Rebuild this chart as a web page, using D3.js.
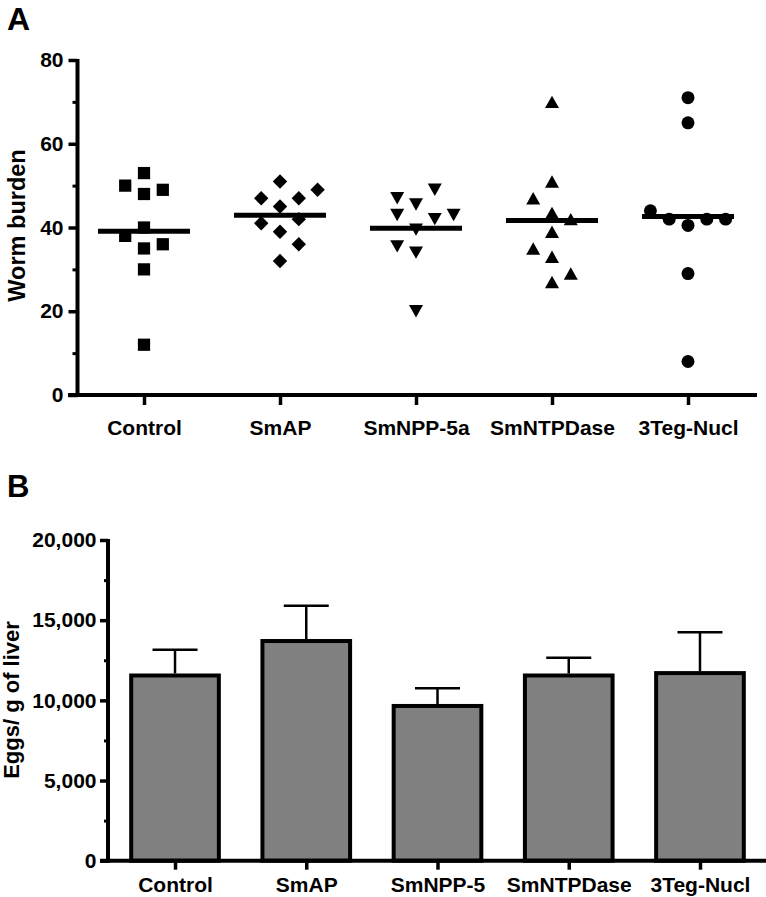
<!DOCTYPE html>
<html><head><meta charset="utf-8">
<script src="https://cdn.jsdelivr.net/npm/d3@7"></script>
<style>
body{margin:0;background:#fff}
svg text{font-family:"Liberation Sans",Arial,sans-serif;font-weight:bold;fill:#000}
</style>
</head><body>
<svg id="chart" width="766" height="897"></svg>
<script>
// ---------- Panel A data (worm burden per mouse) ----------
const groupsA = ["Control","SmAP","SmNPP-5a","SmNTPDase","3Teg-Nucl"];
const controlBurden   = [53,48,49,50,40,35,36,38,30,12];
const smapBurden      = [51,45,47,47,49,39,42,41,36,32];
const smnppBurden     = [45.5,39.5,34,20,49,47,42,35.5,43,43];
const smntpdaseBurden = [70,51,43.5,39,33,27,42,47,29,35];
const tegNuclBurden   = [71,65,40.5,29,8,42,42,42,44];
const burdenTicks      = [0,20,40,60,80];
const burdenMinorTicks = [10,30,50,70];

// ---------- Panel B data (eggs per g of liver) ----------
const groupsB  = ["Control","SmAP","SmNPP-5","SmNTPDase","3Teg-Nucl"];
const eggMeans = [11550,13700,9650,11550,11700];
const eggSem   = [1600,2200,1100,1100,2550];
const eggTicks      = [0,5000,10000,15000,20000];
const eggMinorTicks = [2500,7500,12500,17500];

const svg = d3.select("#chart");

// ================= PANEL A =================
const burdenSeries = [controlBurden, smapBurden, smnppBurden, smntpdaseBurden, tegNuclBurden];
const yA = d3.scaleLinear().domain([0,80]).range([395,60]);
const xA = d3.scalePoint().domain(groupsA).range([144,688]);
const slotStep = 18.8, minGap = 16;

function swarm(values, yScale) {
  const placed = [];
  return values.map(v => {
    const py = yScale(v);
    const free = s => !placed.some(p => p.slot === s && Math.abs(yScale(p.v) - py) < minGap);
    const count = s => placed.filter(p => p.slot === s).length;
    let slot = 0;
    if (!free(0)) {
      for (let k = 1; k < 10; k++) {
        const r = free(k), l = free(-k);
        if (r && l) { slot = count(-k) < count(k) ? -k : k; break; }
        if (r) { slot = k; break; }
        if (l) { slot = -k; break; }
      }
    }
    placed.push({v, slot});
    return {v, slot};
  });
}

const triUp = { draw(ctx, size){ const w=14, h=12.4; ctx.moveTo(0,-h/2); ctx.lineTo(w/2,h/2); ctx.lineTo(-w/2,h/2); ctx.closePath(); } };
const triDown = { draw(ctx, size){ const w=14, h=12.4; ctx.moveTo(0,h/2); ctx.lineTo(w/2,-h/2); ctx.lineTo(-w/2,-h/2); ctx.closePath(); } };
const symbolDefs = [
  {type:d3.symbolSquare, size:150, rot:0},
  {type:d3.symbolSquare, size:104, rot:45},
  {type:triDown, size:1, rot:0},
  {type:triUp, size:1, rot:0},
  {type:d3.symbolCircle, size:132, rot:0}
];

// axes A
const gA = svg.append("g");
const yAxisA = d3.axisLeft(yA).tickValues(burdenTicks).tickSize(9).tickPadding(5).tickSizeOuter(0);
gA.append("g").attr("transform","translate(77.5,0)").call(yAxisA)
  .call(g=>{g.select(".domain").remove(); g.selectAll("line").attr("stroke","#000").attr("stroke-width",3.5);
            g.selectAll("text").style("font-size","21px");});
gA.append("g").attr("transform","translate(77.5,0)")
  .call(d3.axisLeft(yA).tickValues(burdenMinorTicks).tickSize(5).tickFormat(""))
  .call(g=>{g.select(".domain").remove(); g.selectAll("line").attr("stroke","#000").attr("stroke-width",3);});
gA.append("line").attr("x1",77.5).attr("x2",77.5).attr("y1",yA(80)-1).attr("y2",yA(0)+2)
  .attr("stroke","#000").attr("stroke-width",4);
gA.append("g").attr("transform",`translate(0,${yA(0)})`)
  .call(d3.axisBottom(xA).tickSize(10).tickSizeOuter(0))
  .call(g=>{g.select(".domain").remove(); g.selectAll("line").attr("stroke","#000").attr("stroke-width",3.5);
            g.selectAll("text").attr("y",40).attr("dy",0).style("font-size","21px");});
gA.append("line").attr("x1",68).attr("x2",757).attr("y1",yA(0)).attr("y2",yA(0))
  .attr("stroke","#000").attr("stroke-width",4);

// points + mean lines
burdenSeries.forEach((vals,i)=>{
  const cx = xA(groupsA[i]);
  const pts = swarm(vals, yA);
  const def = symbolDefs[i];
  const sym = d3.symbol().type(def.type).size(def.size);
  gA.append("g").selectAll("path").data(pts).join("path")
    .attr("d", sym)
    .attr("transform", d=>`translate(${cx + d.slot*slotStep},${yA(d.v)}) rotate(${def.rot})`)
    .attr("fill","#000");
  const m = d3.mean(vals);
  gA.append("line").attr("x1",cx-46).attr("x2",cx+46).attr("y1",yA(m)).attr("y2",yA(m))
    .attr("stroke","#000").attr("stroke-width",5);
});

gA.append("text").attr("transform",`translate(25,${(yA(0)+yA(80))/2-2}) rotate(-90)`)
  .attr("text-anchor","middle").style("font-size","23.5px").text("Worm burden");
svg.append("text").attr("x",7).attr("y",30).style("font-size","32px").text("A");

// ================= PANEL B =================
const yB = d3.scaleLinear().domain([0,20000]).range([860.7,540]);
const xB = d3.scaleBand().domain(groupsB).range([109.4,765.6]).paddingInner(0.332).paddingOuter(0.166);
const gB = svg.append("g");
const barData = groupsB.map((g,i)=>({g, mean:eggMeans[i], sem:eggSem[i]}));

gB.append("g").selectAll("rect").data(barData).join("rect")
  .attr("x",d=>xB(d.g)).attr("width",xB.bandwidth())
  .attr("y",d=>yB(d.mean)).attr("height",d=>yB(0)-yB(d.mean))
  .attr("fill","#808080").attr("stroke","#000").attr("stroke-width",4);
const eb = gB.append("g").attr("stroke","#000");
eb.selectAll("line.v").data(barData).join("line").attr("class","v")
  .attr("x1",d=>xB(d.g)+xB.bandwidth()/2).attr("x2",d=>xB(d.g)+xB.bandwidth()/2)
  .attr("y1",d=>yB(d.mean)-2).attr("y2",d=>yB(d.mean+d.sem)).attr("stroke-width",2.5);
eb.selectAll("line.c").data(barData).join("line").attr("class","c")
  .attr("x1",d=>xB(d.g)+xB.bandwidth()/2-22.5).attr("x2",d=>xB(d.g)+xB.bandwidth()/2+22.5)
  .attr("y1",d=>yB(d.mean+d.sem)).attr("y2",d=>yB(d.mean+d.sem)).attr("stroke-width",2.5);

gB.append("g").attr("transform","translate(108,0)")
  .call(d3.axisLeft(yB).tickValues(eggTicks).tickSize(8).tickPadding(3.5).tickFormat(d3.format(",")))
  .call(g=>{g.select(".domain").remove(); g.selectAll("line").attr("stroke","#000").attr("stroke-width",3.5);
            g.selectAll("text").style("font-size","21px");});
gB.append("g").attr("transform","translate(108,0)")
  .call(d3.axisLeft(yB).tickValues(eggMinorTicks).tickSize(4).tickFormat(""))
  .call(g=>{g.select(".domain").remove(); g.selectAll("line").attr("stroke","#000").attr("stroke-width",3);});
gB.append("line").attr("x1",108).attr("x2",108).attr("y1",yB(20000)-1).attr("y2",yB(0)+2)
  .attr("stroke","#000").attr("stroke-width",4);
const xAxisB = d3.axisBottom(d3.scalePoint().domain(groupsB).range([xB(groupsB[0])+xB.bandwidth()/2, xB(groupsB[4])+xB.bandwidth()/2]));
gB.append("g").attr("transform",`translate(0,${yB(0)})`)
  .call(xAxisB.tickSize(9).tickSizeOuter(0))
  .call(g=>{g.select(".domain").remove(); g.selectAll("line").attr("stroke","#000").attr("stroke-width",3.5);
            g.selectAll("text").attr("y",31).attr("dy",0).style("font-size","21px");});
gB.append("line").attr("x1",100).attr("x2",766).attr("y1",yB(0)).attr("y2",yB(0))
  .attr("stroke","#000").attr("stroke-width",4);

gB.append("text").attr("transform","translate(19,700) rotate(-90)")
  .attr("text-anchor","middle").style("font-size","22px").text("Eggs/ g of liver");
svg.append("text").attr("x",7).attr("y",497).style("font-size","31px").text("B");
</script>
</body></html>
